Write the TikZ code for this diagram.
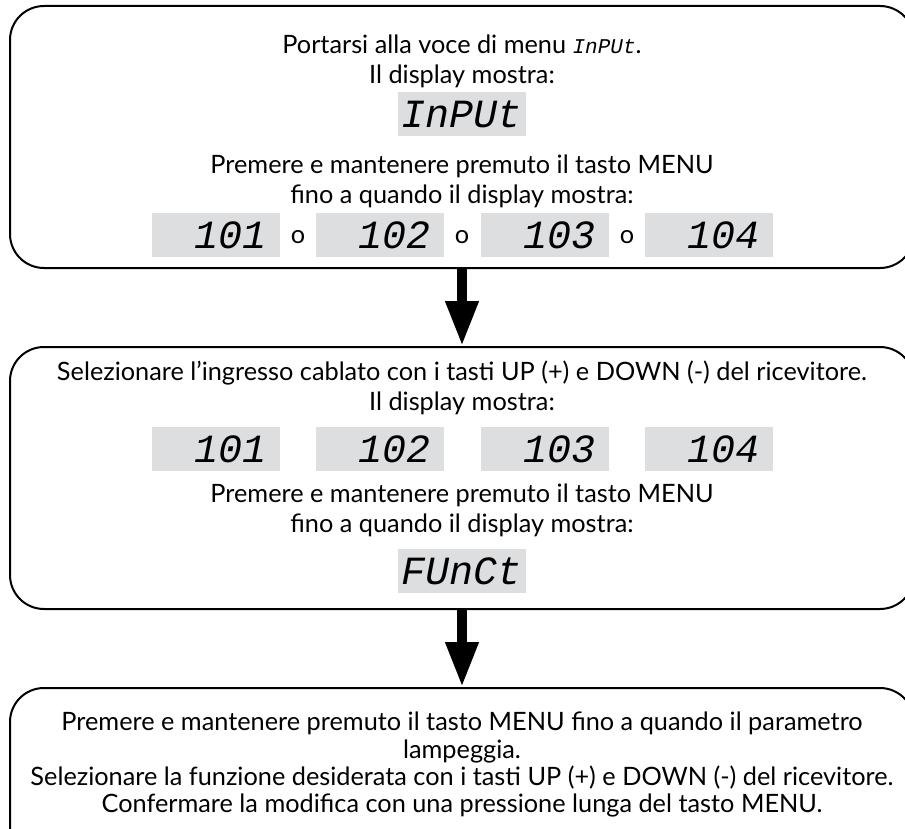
\documentclass[tikz,border=0pt]{standalone}
\usepackage{fontspec}
\setmainfont{Lato}
\newfontfamily\lcdfont{Liberation Mono}
\usetikzlibrary{arrows.meta}
\definecolor{lcdgray}{RGB}{221,222,224}
\newcommand{\lcdtext}[2]{{\lcdfont\itshape\fontsize{#1}{#1}\selectfont #2}}

\begin{document}
\begin{tikzpicture}[x=1pt, y=-1pt,
        font=\fontsize{25.3}{30}\selectfont,
        stepbox/.style={draw, line width=2pt, rounded corners=34pt,
            minimum width=904pt, minimum height=262pt, inner sep=0pt},
        lcd/.style={fill=lcdgray, minimum width=128pt, minimum height=44pt,
            inner sep=0pt, font=\lcdfont\itshape\fontsize{40}{40}\selectfont},
        lcdnum/.style={lcd, text width=102pt, align=right},
        msg/.style={anchor=base},
        flow/.style={line width=10pt, -{Triangle[width=31pt, length=45pt]}}]
        \useasboundingbox (0,0) rectangle (905,829);
        \clip (0,0) rectangle (905,829);

        % boxes
        \node(box1) [stepbox] at (462, 137) {};
        \node(box2) [stepbox] at (462, 478) {};
        \node(box3) [stepbox] at (462, 819) {};

        % first step
        \node(p1) [msg] at (462, 54) {Portarsi alla voce di menu \lcdtext{21}{InPUt}.};
        \node(p2) [msg] at (462, 84) {Il display mostra:};
        \node(input) [lcd] at (462, 114) {InPUt};
        \node(p3) [msg] at (462, 174) {Premere e mantenere premuto il tasto MENU};
        \node(p4) [msg] at (462, 204) {fino a quando il display mostra:};
        \node(d11) [lcdnum] at (216, 235) {101};
        \node(o1) at (298, 237) {o};
        \node(d12) [lcdnum] at (380, 235) {102};
        \node(o2) at (462, 237) {o};
        \node(d13) [lcdnum] at (545, 235) {103};
        \node(o3) at (627, 237) {o};
        \node(d14) [lcdnum] at (709, 235) {104};

        % second step
        \node(s1) [msg] at (462, 380) {Selezionare l’ingresso cablato con i tasti UP (+) e DOWN (-) del ricevitore.};
        \node(s2) [msg] at (462, 410) {Il display mostra:};
        \node(d21) [lcdnum] at (216, 449) {101};
        \node(d22) [lcdnum] at (380, 449) {102};
        \node(d23) [lcdnum] at (545, 449) {103};
        \node(d24) [lcdnum] at (709, 449) {104};
        \node(s3) [msg] at (462, 502) {Premere e mantenere premuto il tasto MENU};
        \node(s4) [msg] at (462, 532) {fino a quando il display mostra:};
        \node(funct) [lcd] at (462, 571) {FUnCt};

        % third step
        \node(c1) [msg] at (462, 730) {Premere e mantenere premuto il tasto MENU fino a quando il parametro};
        \node(c2) [msg] at (462, 758) {lampeggia.};
        \node(c3) [msg] at (462, 785) {Selezionare la funzione desiderata con i tasti UP (+) e DOWN (-) del ricevitore.};
        \node(c4) [msg] at (462, 812) {Confermare la modifica con una pressione lunga del tasto MENU.};

        %edges
        \draw[flow] (box1.south) -- (box2.north);
        \draw[flow] (box2.south) -- (box3.north);

    \end{tikzpicture}
\end{document}
